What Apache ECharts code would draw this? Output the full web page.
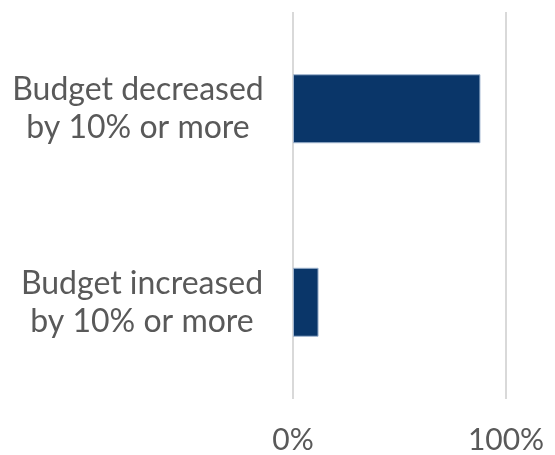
<!DOCTYPE html>
<html>
<head>
<meta charset="utf-8">
<script src="https://cdn.jsdelivr.net/npm/echarts@6/dist/echarts.min.js"></script>
<style>
  html, body { margin: 0; padding: 0; background: #fff; }
  #chart { width: 555px; height: 455px; }
</style>
</head>
<body>
<div id="chart"></div>
<script>
// Share of respondents by budget change
const categories = ['Budget increased\nby 10% or more', 'Budget decreased\nby 10% or more'];
const values = [12, 88];
const tickLabels = { 0: '0%', 100: '100%' };

const chart = echarts.init(document.getElementById('chart'));
chart.setOption({
  animation: false,
  grid: { left: 293, right: 49, top: 12, bottom: 55, containLabel: false },
  xAxis: {
    type: 'value',
    min: 0,
    max: 100,
    interval: 100,
    axisLine: { show: false },
    axisTick: { show: false },
    splitLine: { show: true, lineStyle: { color: '#d9d9d9', width: 2 } },
    axisLabel: {
      margin: 26,
      fontFamily: 'Lato',
      fontSize: 30,
      color: '#595959',
      formatter: v => tickLabels[v] ?? ''
    }
  },
  yAxis: {
    type: 'category',
    data: categories,
    axisLine: { show: false },
    axisTick: { show: false },
    axisLabel: {
      margin: 155,
      fontFamily: 'Lato',
      fontSize: 32,
      lineHeight: 38,
      color: '#595959',
      align: 'center',
      formatter: (v, i) => v.split('\n').map(line => `{${i === 0 ? 'inc' : 'dec'}|${line}}`).join('\n'),
      rich: {
        inc: { fontFamily: 'Lato', fontSize: 32, lineHeight: 38, color: '#595959', padding: [0, 0, 0, 8] },
        dec: { fontFamily: 'Lato', fontSize: 32, lineHeight: 38, color: '#595959' }
      }
    }
  },
  series: [{
    type: 'bar',
    data: values,
    barWidth: 69,
    itemStyle: { color: '#0a3669', borderColor: '#9fb4cf', borderWidth: 1 }
  }]
});
</script>
</body>
</html>
